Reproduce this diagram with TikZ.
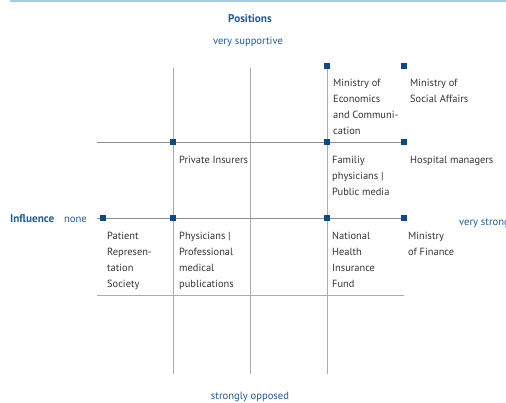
\documentclass[tikz,border=0pt]{standalone}
\usepackage{fontspec}
\setmainfont{PT Sans}
\definecolor{navy}{HTML}{0B4A88}
\definecolor{textblue}{HTML}{1E5C99}
\definecolor{topline}{HTML}{A9C9DD}
\definecolor{gridgray}{HTML}{8E8E8E}
\definecolor{gridlight}{HTML}{ABABAB}
\begin{document}
\begin{tikzpicture}[x=1pt,y=-1pt,
  gridline/.style={draw=gridgray,line width=0.9pt},
  gridlinelight/.style={draw=gridlight,line width=0.9pt},
  marker/.style={fill=navy,minimum size=6pt,inner sep=0pt,draw=none,rectangle},
  label/.style={anchor=base west,inner sep=0pt,align=left,font=\fontsize{10.4}{16}\selectfont,text=black!80},
  axis/.style={inner sep=0pt,font=\fontsize{10.6}{12}\selectfont,text=textblue},
  axisbold/.style={inner sep=0pt,font=\fontsize{11.2}{12}\selectfont\bfseries,text=textblue}]
\useasboundingbox (0,0) rectangle (506,402);
\clip (0,0) rectangle (506,402);
\draw[topline,line width=2pt] (10,1) -- (506,1);
% coordinates
\coordinate (v1t) at (173,68); \coordinate (v1b) at (173,374);
\coordinate (v2t) at (250,68); \coordinate (v2b) at (250,374);
\coordinate (v3t) at (327,67); \coordinate (v3b) at (327,374);
\coordinate (h1l) at (97,142); \coordinate (h1r) at (404,142);
\coordinate (h2l) at (97,218); \coordinate (h2r) at (404,218);
\coordinate (h3l) at (97,295); \coordinate (h3r) at (404,295);
\draw[gridlinelight] (v1t) -- (v1b);
\draw[gridlinelight] (v2t) -- (v2b);
\draw[gridlinelight] (v3t) -- (v3b);
\draw[gridline] (h1l) -- (h1r);
\draw[gridline] (h2l) -- (h2r);
\draw[gridlinelight] (h3l) -- (h3r);
% markers
\node[marker] (m1) at (327,66) {};
\node[marker] (m2) at (404,66) {};
\node[marker] (m3) at (173,142) {};
\node[marker] (m4) at (327,142) {};
\node[marker] (m5) at (404,142) {};
\node[marker] (m6) at (103,218) {};
\node[marker] (m7) at (173,218) {};
\node[marker] (m8) at (327,218) {};
\node[marker] (m9) at (404,218) {};
% axis texts
\node[axisbold,anchor=base] (pos) at (250,22) {Positions};
\node[axis,anchor=base] (vs) at (248,44) {very supportive};
\node[axis,anchor=base] (so) at (250,399) {strongly opposed};
\node[axisbold,anchor=base west] (infl) at (10,222) {Influence};
\node[axis,anchor=base west] (none) at (64,222) {none};
\node[axis,anchor=base west] (vst) at (459,225) {very strong};
% labels (base anchor = baseline of last line)
\node[label] (l1) at (333,134) {Ministry of\\Economics\\and Communi-\\cation};
\node[label] (l2) at (410,102) {Ministry of\\Social Affairs};
\node[label] (l3) at (179,163) {Private Insurers};
\node[label] (l4) at (332,195) {Familiy\\physicians |\\Public media};
\node[label] (l5) at (410,163) {Hospital managers};
\node[label] (l6) at (107,287) {Patient\\Represen-\\tation\\Society};
\node[label] (l7) at (179,287) {Physicians |\\Professional\\medical\\publications};
\node[label] (l8) at (332,287) {National\\Health\\Insurance\\Fund};
\node[label] (l9) at (408,255) {Ministry\\of Finance};
\end{tikzpicture}
\end{document}
